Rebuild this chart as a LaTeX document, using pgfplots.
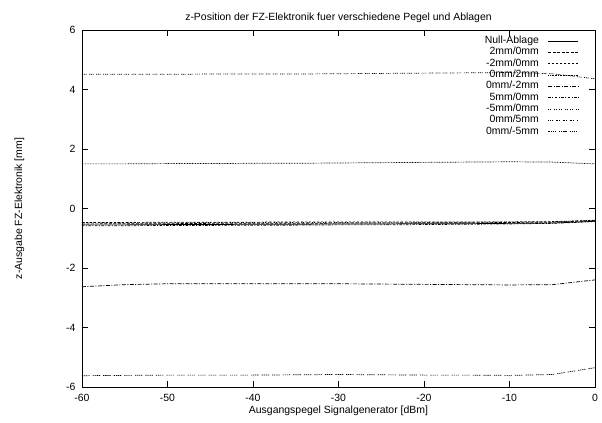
\documentclass[border=0pt]{standalone}
\usepackage{fontspec}
\setmainfont{Liberation Sans}
\usepackage{pgfplots}
\pgfplotsset{compat=1.18}
\begin{document}
\begin{tikzpicture}
\begin{axis}[
  scale only axis, width=513bp, height=357bp,
  xmin=-60, xmax=0, ymin=-6, ymax=6,
  xtick={-60,-50,...,0}, ytick={-6,-4,...,6},
  tick align=inside, major tick length=6bp,
  axis line style={line width=0.6pt}, every tick/.style={black, line width=0.6pt},
  font=\fontsize{10.5}{12.6}\selectfont,
  /pgf/number format/assume math mode=true,
  xticklabel style={yshift=-4bp},
  yticklabel style={xshift=-3bp},
  title={z-Position der FZ-Elektronik fuer verschiedene Pegel und Ablagen},
  title style={yshift=-2bp},
  xlabel={Ausgangspegel Signalgenerator [dBm]},
  ylabel={z-Ausgabe FZ-Elektronik [mm]},
  xlabel style={yshift=3bp},
  ylabel style={yshift=35bp},
  legend plot pos=right,
  legend cell align=right,
  legend image code/.code={\draw[#1] (0bp,0bp) -- (30bp,0bp);},
  legend style={at={(1,1)}, anchor=north east, xshift=-13bp, yshift=-3bp, draw=none, fill=none,
    column sep=8bp,
    nodes={text height=7pt, text depth=2pt, inner sep=1.2pt}, font=\fontsize{10.5}{12.6}\selectfont},
  every axis plot/.append style={line width=0.7pt, black},
]
\addplot[solid] coordinates {(-60,-0.55) (-55,-0.55) (-50,-0.54) (-45,-0.54) (-40,-0.53) (-35,-0.53) (-30,-0.52) (-25,-0.52) (-20,-0.51) (-15,-0.51) (-10,-0.50) (-5,-0.49) (0,-0.43)};
\addlegendentry{Null-Ablage}
\addplot[dash pattern=on 3pt off 1.5pt] coordinates {(-60,-0.52) (-55,-0.51) (-50,-0.51) (-45,-0.50) (-40,-0.50) (-35,-0.50) (-30,-0.49) (-25,-0.49) (-20,-0.48) (-15,-0.48) (-10,-0.47) (-5,-0.46) (0,-0.41)};
\addlegendentry{2mm/0mm}
\addplot[dash pattern=on 2pt off 2pt] coordinates {(-60,-0.47) (-55,-0.47) (-50,-0.46) (-45,-0.46) (-40,-0.46) (-35,-0.45) (-30,-0.45) (-25,-0.45) (-20,-0.45) (-15,-0.45) (-10,-0.45) (-5,-0.44) (0,-0.40)};
\addlegendentry{-2mm/0mm}
\addplot[dash pattern=on 0.8pt off 0.8pt] coordinates {(-60,1.50) (-55,1.50) (-50,1.51) (-45,1.51) (-40,1.52) (-35,1.52) (-30,1.53) (-25,1.54) (-20,1.55) (-15,1.56) (-10,1.57) (-5,1.56) (0,1.50)};
\addlegendentry{0mm/2mm}
\addplot[dash pattern=on 4pt off 1.5pt on 1pt off 1.5pt] coordinates {(-60,-2.63) (-55,-2.56) (-50,-2.53) (-45,-2.53) (-40,-2.53) (-35,-2.53) (-30,-2.53) (-25,-2.54) (-20,-2.55) (-15,-2.56) (-10,-2.57) (-5,-2.56) (0,-2.40)};
\addlegendentry{0mm/-2mm}
\addplot[dash pattern=on 2.5pt off 1.5pt on 1pt off 1.5pt] coordinates {(-60,-0.58) (-55,-0.58) (-50,-0.57) (-45,-0.57) (-40,-0.56) (-35,-0.56) (-30,-0.55) (-25,-0.55) (-20,-0.54) (-15,-0.53) (-10,-0.52) (-5,-0.50) (0,-0.44)};
\addlegendentry{5mm/0mm}
\addplot[dash pattern=on 1pt off 1pt on 1pt off 2.5pt] coordinates {(-60,-0.48) (-55,-0.48) (-50,-0.48) (-45,-0.47) (-40,-0.47) (-35,-0.47) (-30,-0.47) (-25,-0.46) (-20,-0.46) (-15,-0.46) (-10,-0.45) (-5,-0.45) (0,-0.39)};
\addlegendentry{-5mm/0mm}
\addplot[dash pattern=on 1pt off 0.8pt on 1pt off 0.8pt on 1pt off 2.5pt] coordinates {(-60,4.51) (-55,4.51) (-50,4.51) (-45,4.52) (-40,4.52) (-35,4.52) (-30,4.53) (-25,4.54) (-20,4.55) (-15,4.56) (-10,4.57) (-5,4.53) (0,4.36)};
\addlegendentry{0mm/5mm}
\addplot[dash pattern=on 1.3pt off 0.8pt on 1.3pt off 0.8pt on 1.3pt off 0.8pt on 1.3pt off 3pt] coordinates {(-60,-5.62) (-55,-5.61) (-50,-5.60) (-45,-5.60) (-40,-5.60) (-35,-5.59) (-30,-5.58) (-25,-5.59) (-20,-5.60) (-15,-5.60) (-10,-5.61) (-5,-5.58) (0,-5.35)};
\addlegendentry{0mm/-5mm}
\end{axis}
\path[use as bounding box] (-82bp,-36bp) rectangle (520bp,387bp);
\end{tikzpicture}
\end{document}
